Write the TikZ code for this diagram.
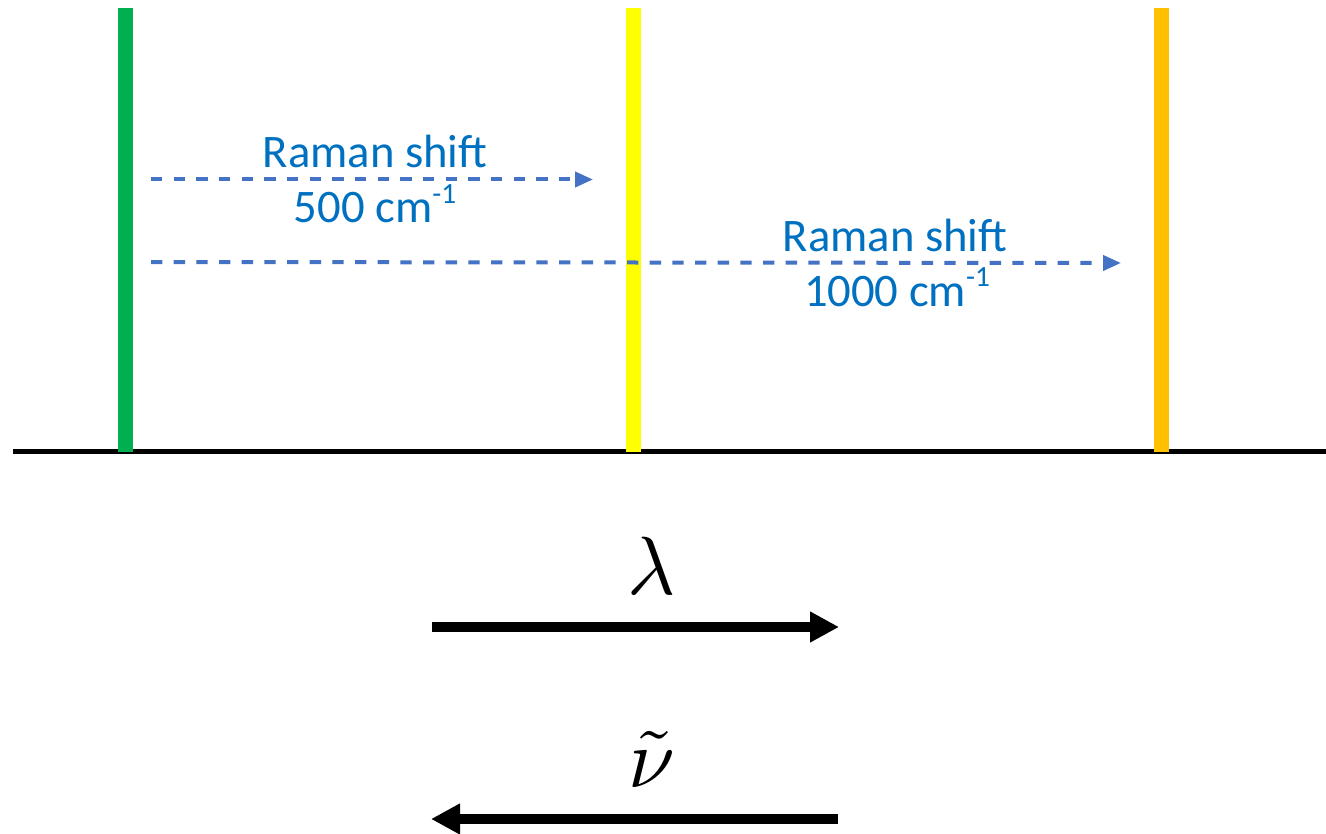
\documentclass[tikz,border=0pt]{standalone}
\usepackage{fontspec}
\setmainfont{Carlito}
\usetikzlibrary{arrows.meta}
\definecolor{lgreen}{HTML}{00B050}
\definecolor{lyellow}{HTML}{FFFF00}
\definecolor{lorange}{HTML}{FFC000}
\definecolor{txtblue}{HTML}{0070C0}
\definecolor{arrblue}{HTML}{4472C4}
\tikzset{
  bar/.style={line width=11.25pt},
  shiftarrow/.style={arrblue, line width=3pt, dash pattern=on 8.5pt off 8.5pt,
    -{Triangle[length=13.5pt,width=11.25pt]}},
  bigarrow/.style={black, line width=7.5pt, -{Triangle[length=21.75pt,width=21.75pt]}},
  lbl/.style={text=txtblue, inner sep=0pt, anchor=base, font=\fontsize{35}{40}\selectfont},
  sym/.style={inner sep=0pt, anchor=base},
}
\newcommand{\supm}{\raisebox{0.42em}{\fontsize{22}{22}\selectfont -1}}
\begin{document}
\begin{tikzpicture}[x=0.75pt,y=-0.75pt]
\useasboundingbox (0,0) rectangle (1326,834);
% baseline
\coordinate (b0) at (13,451.5);
\coordinate (b1) at (1326,451.5);
\draw[line width=3.75pt] (b0) -- (b1);
% bars
\coordinate (g0) at (125,8);   \coordinate (g1) at (125,452);
\coordinate (y0) at (633.5,8); \coordinate (y1) at (633.5,452);
\coordinate (o0) at (1161,8);  \coordinate (o1) at (1161,452);
\draw[bar, lgreen] (g0) -- (g1);
\draw[bar, lyellow] (y0) -- (y1);
\draw[bar, lorange] (o0) -- (o1);
% shift arrows
\coordinate (s1a) at (151,179.5);  \coordinate (s1b) at (593,179.5);
\coordinate (s2a) at (151,262);  \coordinate (s2b) at (1121,263);
\draw[shiftarrow] (s1a) -- (s1b);
\draw[shiftarrow] (s2a) -- (s2b);
\node[lbl] (t1a) at (375,168) {Raman shift};
\node[lbl] (t1b) at (375,223) {500 cm\supm};
\node[lbl] (t2a) at (895,251) {Raman shift};
\node[lbl] (t2b) at (897,306) {1000 cm\supm};
% lambda / nu arrows
\coordinate (la) at (432,627); \coordinate (lb) at (839,627);
\coordinate (na) at (838,819); \coordinate (nb) at (431,819);
\draw[bigarrow] (la) -- (lb);
\draw[bigarrow] (na) -- (nb);
\node[sym] (lam) at (652,594) {\scalebox{6.2}{$\lambda$}};
\node[sym] (nu) at (652,787) {\scalebox{6.3}{$\tilde{\nu}$}};
\end{tikzpicture}
\end{document}
